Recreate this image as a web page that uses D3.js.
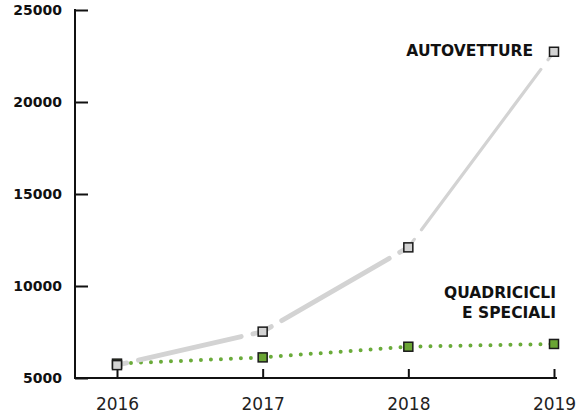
<!DOCTYPE html>
<html>
<head>
<meta charset="utf-8">
<script src="https://cdn.jsdelivr.net/npm/d3@7"></script>
<style>
  html, body { margin: 0; padding: 0; background: #fff; }
  svg { display: block; }
  .lbl { font-family: "DejaVu Sans", sans-serif; font-weight: bold; fill: #111; }
</style>
</head>
<body>
<svg id="chart" width="578" height="419"></svg>
<script>
// Registrations by vehicle type, 2016–2019
const years = [2016, 2017, 2018, 2019];
const autovetture = [5700, 7520, 12100, 22730];
const quadricicli = [5780, 6120, 6700, 6850];
const yTicks = [5000, 10000, 15000, 20000, 25000];
const seriesLabels = ["AUTOVETTURE", ["QUADRICICLI", "E SPECIALI"]];

const svg = d3.select("#chart");
const plotLeft = 75, plotBottom = 378, plotTop = 10;

const x = d3.scaleLinear().domain([2016, 2019]).range([117, 554]);
const y = d3.scaleLinear().domain([5000, 25000]).range([plotBottom, plotTop]);

// Y axis: ticks pointing into the plot, bold labels on the left
const yAxis = svg.append("g")
  .attr("transform", `translate(${plotLeft},0)`)
  .call(d3.axisLeft(y).tickValues(yTicks).tickFormat(d3.format("d"))
    .tickSizeInner(-13).tickSizeOuter(0).tickPadding(13));
yAxis.select(".domain").remove();
yAxis.selectAll(".tick line").attr("stroke", "#111").attr("stroke-width", 2);
yAxis.selectAll(".tick text")
  .attr("font-family", "DejaVu Sans, sans-serif")
  .attr("font-weight", "bold")
  .attr("font-size", 14)
  .attr("fill", "#111");

// X axis: ticks pointing up, regular labels below
const xAxis = svg.append("g")
  .attr("transform", `translate(0,${plotBottom})`)
  .call(d3.axisBottom(x).tickValues(years).tickFormat(d3.format("d"))
    .tickSizeInner(-9).tickSizeOuter(0).tickPadding(20));
xAxis.select(".domain").remove();
xAxis.selectAll(".tick line").attr("stroke", "#111").attr("stroke-width", 2);
xAxis.selectAll(".tick text")
  .attr("font-family", "DejaVu Sans, sans-serif")
  .attr("font-size", 17)
  .attr("fill", "#222");

// axis lines
svg.append("line")
  .attr("x1", plotLeft).attr("x2", plotLeft)
  .attr("y1", y(25000) - 1).attr("y2", plotBottom + 1)
  .attr("stroke", "#111").attr("stroke-width", 2);
svg.append("line")
  .attr("x1", plotLeft).attr("x2", x(2019) + 3)
  .attr("y1", plotBottom).attr("y2", plotBottom)
  .attr("stroke", "#111").attr("stroke-width", 2);

// Green dotted line
const line = d3.line().x((d, i) => x(years[i])).y(d => y(d));
svg.append("path")
  .datum(quadricicli)
  .attr("d", line)
  .attr("fill", "none")
  .attr("stroke", "#6aab3a")
  .attr("stroke-width", 4)
  .attr("stroke-linecap", "round")
  .attr("stroke-dasharray", "0 10")
  .attr("stroke-dashoffset", -14);

// Grey line, drawn segment by segment with a short break either side of each marker
const greyPts = autovetture.map((v, i) => [x(years[i]), y(v)]);
for (let i = 0; i < greyPts.length - 1; i++) {
  const [x0, y0] = greyPts[i], [x1, y1] = greyPts[i + 1];
  const L = Math.hypot(x1 - x0, y1 - y0);
  const t = 10, g = 12;
  svg.append("path")
    .attr("d", `M${x0},${y0}L${x1},${y1}`)
    .attr("fill", "none")
    .attr("stroke", "#d3d3d3")
    .attr("stroke-width", i === 2 ? 3.2 : 4.8)
    .attr("stroke-linecap", "round")
    .attr("stroke-dasharray", `${t} ${g} ${L - 2 * t - 2 * g} ${g} ${t} 0`);
}

// Markers
const sz = 9;
svg.append("g").selectAll("rect")
  .data(quadricicli)
  .join("rect")
  .attr("x", (d, i) => x(years[i]) - sz / 2)
  .attr("y", d => y(d) - sz / 2)
  .attr("width", sz).attr("height", sz)
  .attr("fill", "#6aa534")
  .attr("stroke", "#1a1a1a").attr("stroke-width", 1.5);
svg.append("g").selectAll("rect")
  .data(autovetture)
  .join("rect")
  .attr("x", (d, i) => x(years[i]) - sz / 2)
  .attr("y", d => y(d) - sz / 2)
  .attr("width", sz).attr("height", sz)
  .attr("fill", "#d3d3d3")
  .attr("stroke", "#1a1a1a").attr("stroke-width", 1.5);

// Series labels
svg.append("text")
  .attr("class", "lbl")
  .attr("x", x(2019) - 21)
  .attr("y", y(autovetture[3]) + 4)
  .attr("text-anchor", "end")
  .attr("font-size", 15.5)
  .text(seriesLabels[0]);
const q = svg.append("text")
  .attr("class", "lbl")
  .attr("text-anchor", "end")
  .attr("font-size", 15.5);
seriesLabels[1].forEach((t, i) => {
  q.append("tspan")
    .attr("x", x(2019) + 2)
    .attr("y", y(quadricicli[3]) - 46 + i * 20)
    .text(t);
});
</script>
</body>
</html>
